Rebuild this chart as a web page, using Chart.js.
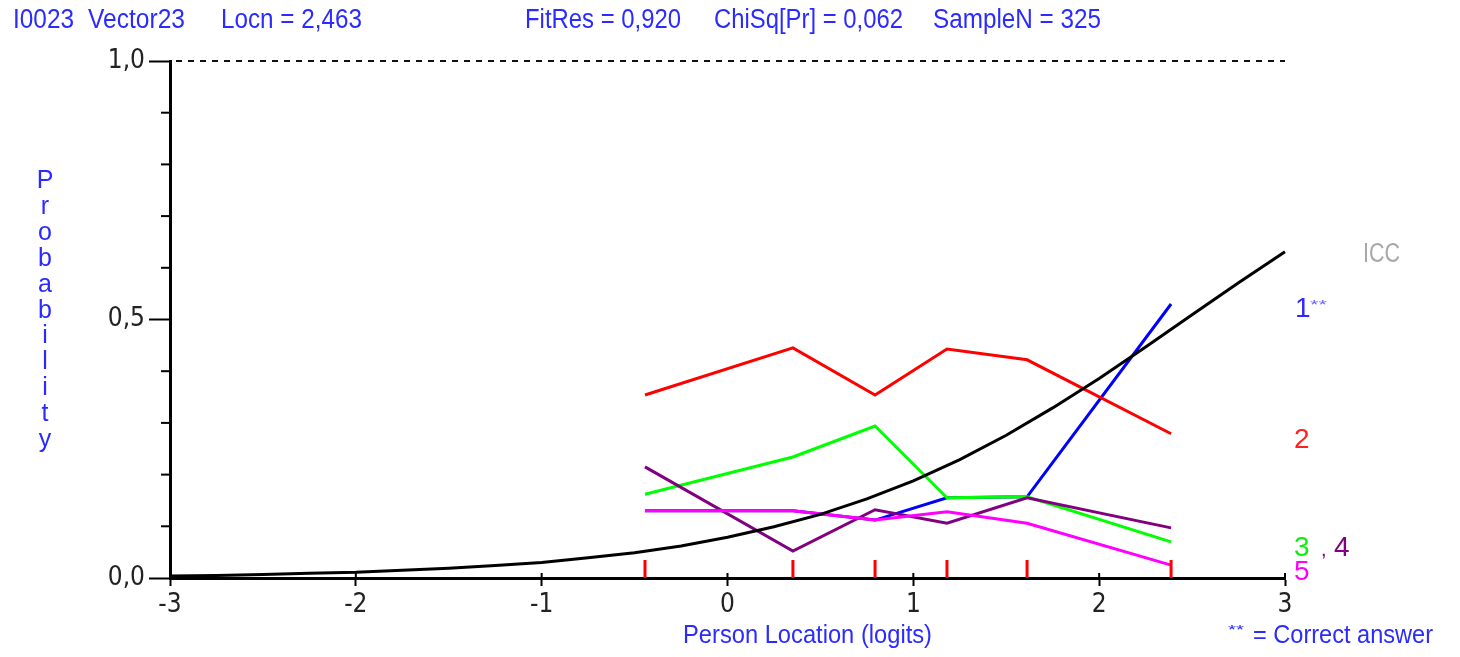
<!DOCTYPE html>
<html><head><meta charset="utf-8">
<script src="https://cdn.jsdelivr.net/npm/chart.js@4.4.1/dist/chart.umd.min.js"></script>
<style>
html,body{margin:0;padding:0;background:#fff;}
#wrap{position:relative;width:1460px;height:657px;overflow:hidden;}
canvas{position:absolute;left:0;top:0;}
svg{position:absolute;left:0;top:0;pointer-events:none;}
svg text{font-family:'Liberation Sans',Arial,sans-serif;}
</style></head><body>
<div id="wrap">
<canvas id="c" width="1460" height="657"></canvas>
<svg width="1460" height="657" viewBox="0 0 1460 657">
  <g fill="#2b2bff" font-size="27">
    <text x="13" y="28" textLength="61" lengthAdjust="spacingAndGlyphs">I0023</text>
    <text x="88" y="28" textLength="97" lengthAdjust="spacingAndGlyphs">Vector23</text>
    <text x="221" y="28" textLength="141" lengthAdjust="spacingAndGlyphs">Locn = 2,463</text>
    <text x="525" y="28" textLength="156" lengthAdjust="spacingAndGlyphs">FitRes = 0,920</text>
    <text x="714" y="28" textLength="189" lengthAdjust="spacingAndGlyphs">ChiSq[Pr] = 0,062</text>
    <text x="933" y="28" textLength="168" lengthAdjust="spacingAndGlyphs">SampleN = 325</text>
  </g>
  <g id="ytitle" fill="#2b2bff" font-size="25" text-anchor="middle"></g>
  <g fill="#2b2bff" font-size="26">
    <text x="683" y="643" textLength="249" lengthAdjust="spacingAndGlyphs">Person Location (logits)</text>
    <text x="1228" y="634" font-size="13" textLength="16" lengthAdjust="spacingAndGlyphs">**</text>
    <text x="1253" y="643" textLength="180" lengthAdjust="spacingAndGlyphs">= Correct answer</text>
  </g>
  <text x="1363" y="262" fill="#a8a8a8" font-size="27" textLength="37" lengthAdjust="spacingAndGlyphs">ICC</text>
  <text x="1295" y="317" fill="#2b2bff" font-size="28">1</text>
  <text x="1310" y="309" fill="#6a6aff" font-size="13" textLength="17" lengthAdjust="spacingAndGlyphs">**</text>
  <text x="1294" y="448" fill="#ff2020" font-size="28">2</text>
  <text x="1294" y="556" fill="#10ee10" font-size="28">3</text>
  <text x="1321" y="556" fill="#800080" font-size="20">,</text>
  <text x="1334" y="556" fill="#800080" font-size="28">4</text>
  <text x="1294" y="580" fill="#ff00ff" font-size="28">5</text>
</svg>
</div>
<script>
// ---- data ----
const classLocations = [-0.444, 0.352, 0.794, 1.181, 1.612, 2.387];
const option1 = [0.130, 0.130, 0.112, 0.155, 0.157, 0.530];
const option2 = [0.354, 0.445, 0.354, 0.443, 0.422, 0.279];
const option3 = [0.162, 0.234, 0.294, 0.155, 0.157, 0.070];
const option4 = [0.215, 0.052, 0.132, 0.106, 0.155, 0.097];
const option5 = [0.130, 0.130, 0.112, 0.128, 0.106, 0.025];
const iccX = [-3,-2.75,-2.5,-2.25,-2,-1.75,-1.5,-1.25,-1,-0.75,-0.5,-0.25,0,0.25,0.5,0.75,1,1.25,1.5,1.75,2,2.25,2.5,2.75,3];
const iccY = [0.004,0.005,0.007,0.009,0.011,0.015,0.019,0.024,0.030,0.039,0.049,0.062,0.079,0.099,0.123,0.153,0.188,0.229,0.276,0.329,0.386,0.447,0.509,0.571,0.631];
const xTicks = [-3,-2,-1,0,1,2,3];
const yTicks = [0, 0.5, 1];
const yTickLabels = ['0,0','0,5','1,0'];
const yMinorTicks = [0.1,0.2,0.3,0.4,0.6,0.7,0.8,0.9];
const yTitleLetters = ['P','r','o','b','a','b','i','l','i','t','y'];

// vertical axis title letters
const g = document.getElementById('ytitle');
yTitleLetters.forEach((ch, i) => {
  const t = document.createElementNS('http://www.w3.org/2000/svg','text');
  t.setAttribute('x','45');
  t.setAttribute('y', String(188 + i*25.9));
  t.textContent = ch;
  g.appendChild(t);
});

const pts = arr => classLocations.map((x,i)=>({x, y: arr[i]}));

const decor = {
  id: 'decor',
  afterDatasetsDraw(chart) {
    const ctx = chart.ctx, xs = chart.scales.x, ys = chart.scales.y, a = chart.chartArea;
    ctx.save();
    // dashed line at 1.0
    ctx.strokeStyle = '#111'; ctx.lineWidth = 2; ctx.setLineDash([6,6]);
    const y1 = ys.getPixelForValue(1);
    ctx.beginPath(); ctx.moveTo(a.left+6, y1); ctx.lineTo(a.right, y1); ctx.stroke();
    ctx.setLineDash([]);
    // minor y ticks
    ctx.strokeStyle = '#000'; ctx.lineWidth = 2;
    yMinorTicks.forEach(v => {
      const p = ys.getPixelForValue(v);
      ctx.beginPath(); ctx.moveTo(a.left-9, p); ctx.lineTo(a.left, p); ctx.stroke();
    });
    // x ticks above axis
    xTicks.forEach(v => {
      const p = xs.getPixelForValue(v);
      ctx.beginPath(); ctx.moveTo(p, a.bottom-5); ctx.lineTo(p, a.bottom); ctx.stroke();
    });
    // class interval markers
    ctx.strokeStyle = '#ff0000'; ctx.lineWidth = 3;
    classLocations.forEach(v => {
      const p = xs.getPixelForValue(v);
      ctx.beginPath(); ctx.moveTo(p, a.bottom-18); ctx.lineTo(p, a.bottom); ctx.stroke();
    });
    ctx.restore();
  }
};

const tickFont = {family: "'Liberation Sans Narrow','DejaVu Sans Condensed','Liberation Sans',sans-serif", size: 26};

new Chart(document.getElementById('c'), {
  type: 'scatter',
  data: {
    datasets: [
      {label:'ICC', data: iccX.map((x,i)=>({x, y: iccY[i]})), borderColor:'#000', borderWidth:3, order:0},
      {label:'5', data: pts(option5), borderColor:'#ff00ff', borderWidth:3, order:1},
      {label:'4', data: pts(option4), borderColor:'#800080', borderWidth:3, order:2},
      {label:'3', data: pts(option3), borderColor:'#00ff00', borderWidth:3, order:3},
      {label:'2', data: pts(option2), borderColor:'#ff0000', borderWidth:3, order:4},
      {label:'1', data: pts(option1), borderColor:'#0000ff', borderWidth:3, order:5}
    ].map(d => Object.assign(d, {showLine:true, pointRadius:0, tension:0, fill:false, clip:6}))
  },
  options: {
    responsive: false, devicePixelRatio: 1, animation: false,
    layout: {padding: {top: 61, right: 175, left: 0, bottom: 0}},
    plugins: {legend:{display:false}, tooltip:{enabled:false}},
    scales: {
      x: {
        type:'linear', min:-3, max:3,
        afterBuildTicks: s => { s.ticks = xTicks.map(v=>({value:v})); },
        afterFit: s => { s.height = 79; },
        grid: {drawOnChartArea:false, drawTicks:true, tickLength:8, tickWidth:2, tickColor:'#000'},
        border: {color:'#000', width:3},
        ticks: {color:'#222', font: tickFont, padding:4, maxRotation:0, autoSkip:false,
                callback: v => String(v)}
      },
      y: {
        type:'linear', min:0, max:1,
        afterBuildTicks: s => { s.ticks = yTicks.map(v=>({value:v})); },
        afterFit: s => { s.width = 170; },
        grid: {drawOnChartArea:false, drawTicks:true, tickLength:21, tickWidth:2, tickColor:'#000'},
        border: {color:'#000', width:3},
        ticks: {color:'#222', font: tickFont, padding:4, autoSkip:false,
                callback: v => yTickLabels[yTicks.indexOf(v)]}
      }
    }
  },
  plugins: [decor]
});
</script>
</body></html>
